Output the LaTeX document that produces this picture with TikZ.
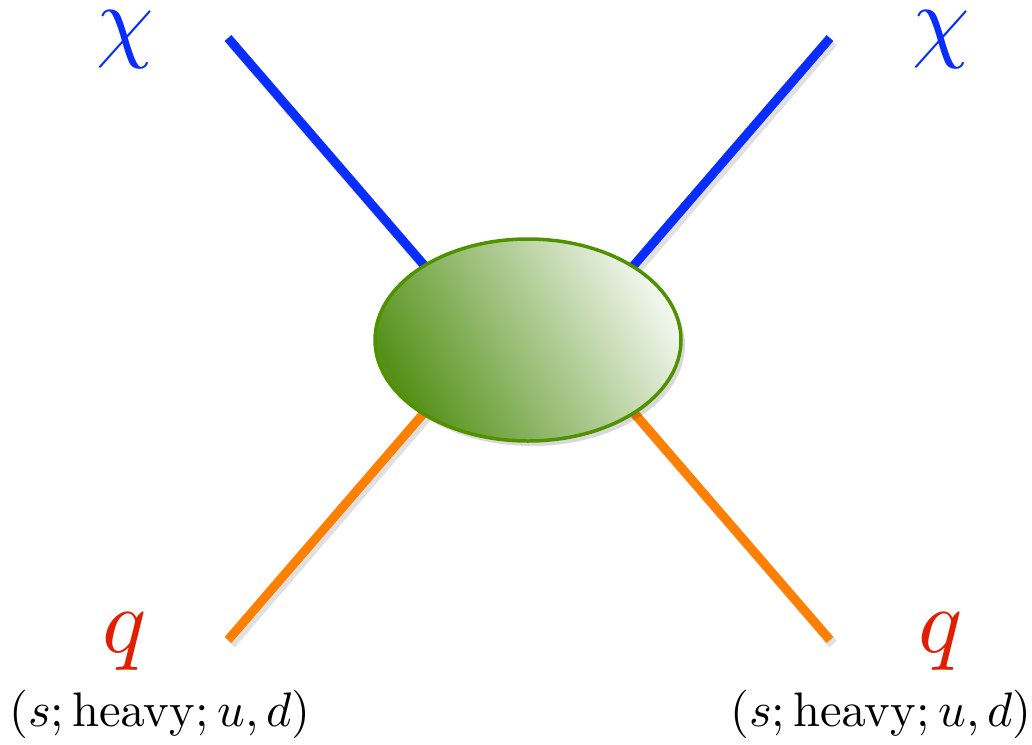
\documentclass[tikz,border=0pt]{standalone}
\usetikzlibrary{shapes.geometric}
\definecolor{chiblue}{RGB}{10,45,255}
\definecolor{qorange}{RGB}{255,128,0}
\definecolor{qred}{RGB}{225,30,0}
\definecolor{blobedge}{RGB}{80,145,0}
\definecolor{blobdark}{RGB}{85,145,25}
\definecolor{bloblight}{RGB}{240,246,236}
\tikzset{
  leg/.style={line width=9pt},
  legshadow/.style={line width=10pt, black, opacity=0.12},
  biglabel/.style={inner sep=0pt, font=\normalsize, scale=9.2, transform shape},
  smalllabel/.style={inner sep=0pt, font=\normalsize, scale=4.85, transform shape},
}
\begin{document}
\begin{tikzpicture}[x=1pt,y=-1pt]
\useasboundingbox (0,0) rectangle (1032,744);
\coordinate (c) at (528,340);
\coordinate (tl) at (228,38);
\coordinate (tr) at (830,38);
\coordinate (bl) at (228,640);
\coordinate (br) at (830,640);
\coordinate (tli) at (480,330);
\coordinate (tri) at (578,330);
\coordinate (bli) at (480,348);
\coordinate (bri) at (578,348);
% shadows of legs
\draw[legshadow] ([shift={(3,4)}]tli) -- ([shift={(3,4)}]tl);
\draw[legshadow] ([shift={(3,4)}]tri) -- ([shift={(3,4)}]tr);
\draw[legshadow] ([shift={(3,4)}]bli) -- ([shift={(3,4)}]bl);
\draw[legshadow] ([shift={(3,4)}]bri) -- ([shift={(3,4)}]br);
\draw[leg, chiblue] (tli) -- (tl);
\draw[leg, chiblue] (tri) -- (tr);
\draw[leg, qorange] (bli) -- (bl);
\draw[leg, qorange] (bri) -- (br);
% blob
\fill[black, opacity=0.15] ([shift={(4,5)}]c) ellipse [x radius=153, y radius=101];
\node (blob) [draw=blobedge, line width=3.5pt, ellipse, minimum width=306pt, minimum height=202pt,
  top color=bloblight, bottom color=blobdark, shading angle=-60, inner sep=0pt] at (c) {};
% labels
\node (chiL) [biglabel, text=chiblue] at (125,40) {$\chi$};
\node (chiR) [biglabel, text=chiblue] at (941,40) {$\chi$};
\node (qL) [biglabel, text=qred] at (125,642) {$q$};
\node (qR) [biglabel, text=qred] at (941,642) {$q$};
\node (labL) [smalllabel] at (160,714) {$(s;\mathrm{heavy};u,d)$};
\node (labR) [smalllabel] at (881,714) {$(s;\mathrm{heavy};u,d)$};
\end{tikzpicture}
\end{document}
